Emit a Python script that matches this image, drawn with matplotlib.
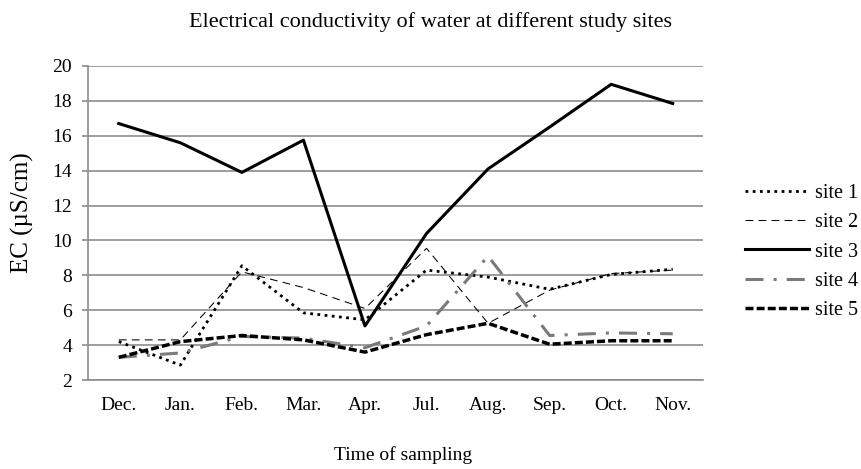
import numpy as np
import matplotlib; matplotlib.use("Agg"); import matplotlib.pyplot as plt

plt.rcParams["font.family"] = ["Liberation Serif", "DejaVu Serif"]

months = ["Dec.", "Jan.", "Feb.", "Mar.", "Apr.", "Jul.", "Aug.", "Sep.", "Oct.", "Nov."]
site1 = [4.2, 2.85, 8.55, 5.85, 5.45, 8.3, 7.9, 7.2, 8.05, 8.35]
site2 = [4.3, 4.3, 8.2, 7.3, 6.1, 9.55, 5.25, 7.15, 8.1, 8.3]
site3 = [16.7, 15.6, 13.9, 15.75, 5.1, 10.4, 14.1, 16.5, 18.95, 17.85]
site4 = [3.3, 3.55, 4.5, 4.4, 3.85, 5.1, 9.1, 4.55, 4.7, 4.65]
site5 = [3.3, 4.2, 4.55, 4.3, 3.6, 4.6, 5.25, 4.05, 4.25, 4.25]

W, H = 862, 469
x = np.arange(len(months))
fig = plt.figure(figsize=(W / 100, H / 100), dpi=100)
ax = fig.add_axes([88 / W, 1 - 380 / H, (703.5 - 88) / W, (380 - 66) / H])

ax.plot(x, site1, color="black", lw=2.0, ls=(0, (1, 1.6)), label="site 1")
ax.plot(x, site2, color="black", lw=0.75, ls=(0, (7.5, 5)), label="site 2")
ax.plot(x, site3, color="black", lw=2.2, ls="-", label="site 3")
ax.plot(x, site4, color="#7a7a7a", lw=2.2, ls=(0, (5.9, 3.3, 1, 3.3)), label="site 4")
ax.plot(x, site5, color="black", lw=2.5, ls=(0, (2.3, 0.9)), label="site 5")

ax.set_xlim(-0.5, len(months) - 0.5)
ax.set_ylim(2, 20)
ax.set_yticks(np.arange(2, 21, 2))
ax.set_xticks(x)
ax.set_xticklabels(months)
ax.yaxis.grid(True, color="#8c8c8c", lw=1.2)
ax.set_axisbelow(True)
for s in ["top", "right"]:
    ax.spines[s].set_visible(False)
for s in ["left", "bottom"]:
    ax.spines[s].set_color("#8c8c8c")
    ax.spines[s].set_linewidth(1.2)
ax.tick_params(axis="y", length=4.5, color="#8c8c8c", width=1.2, labelsize=14, pad=7)
ax.tick_params(axis="x", length=0, labelsize=14, pad=12)

fig.text(22 / W, 1 - 213 / H, "EC (µS/cm)", rotation=90, ha="center", va="center", fontsize=18)
fig.text(403 / W, 1 - 455 / H, "Time of sampling", ha="center", va="center", fontsize=14)
fig.text(431 / W, 1 - 22 / H, "Electrical conductivity of water at different study sites",
         ha="center", va="center", fontsize=16)

ax.legend(loc="center left", bbox_to_anchor=(745 / W, 1 - 252 / H),
          bbox_transform=fig.transFigure, frameon=False, fontsize=14.5, borderpad=0,
          borderaxespad=0, handlelength=3.2, handletextpad=0.3, labelspacing=0.5)

fig.savefig("out.png", dpi=100)
